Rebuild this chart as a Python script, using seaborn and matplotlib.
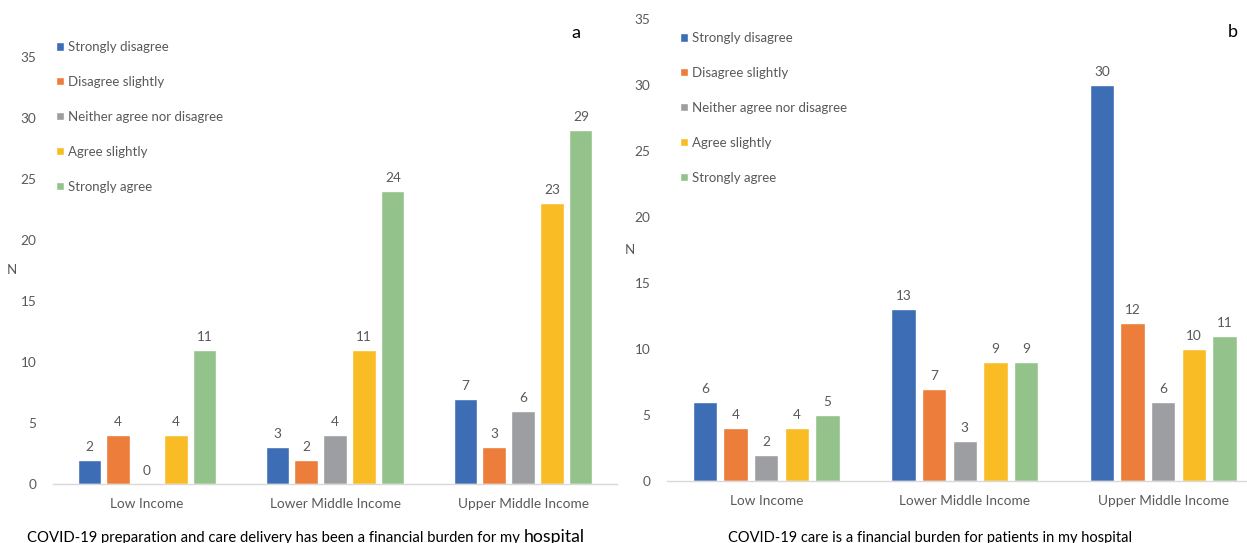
import numpy as np
import pandas as pd
import matplotlib
matplotlib.use("Agg")
import matplotlib.pyplot as plt
import seaborn as sns

categories = ["Low Income", "Lower Middle Income", "Upper Middle Income"]
responses = ["Strongly disagree", "Disagree slightly", "Neither agree nor disagree",
             "Agree slightly", "Strongly agree"]
# panel a: hospital burden
a_strongly_disagree = [2, 3, 7]
a_disagree_slightly = [4, 2, 3]
a_neither = [0, 4, 6]
a_agree_slightly = [4, 11, 23]
a_strongly_agree = [11, 24, 29]
# panel b: patient burden
b_strongly_disagree = [6, 13, 30]
b_disagree_slightly = [4, 7, 12]
b_neither = [2, 3, 6]
b_agree_slightly = [4, 9, 10]
b_strongly_agree = [5, 9, 11]

title_a = "COVID-19 preparation and care delivery has been a financial burden for my "
title_a_end = "hospital"
title_b = "COVID-19 care is a financial burden for patients in my hospital"
yticks = [0, 5, 10, 15, 20, 25, 30, 35]

colors = ["#3D6DB5", "#EC7D3A", "#9C9EA1", "#F9BC25", "#93C38B"]

def long_df(series):
    rows = []
    for resp, vals in zip(responses, series):
        for cat, v in zip(categories, vals):
            rows.append({"Income": cat, "Response": resp, "N": v})
    return pd.DataFrame(rows)

df_a = long_df([a_strongly_disagree, a_disagree_slightly, a_neither, a_agree_slightly, a_strongly_agree])
df_b = long_df([b_strongly_disagree, b_disagree_slightly, b_neither, b_agree_slightly, b_strongly_agree])

sns.set_style("white")
plt.rcParams["font.family"] = ["Lato", "DejaVu Sans"]
TXT = "#595959"

W, H = 1247, 543
fig = plt.figure(figsize=(W / 100, H / 100), dpi=100)

def px_axes(x0, x1, ybase, ytop):
    return fig.add_axes([x0 / W, (H - ybase) / H, (x1 - x0) / W, (ybase - ytop) / H])

ax_a = px_axes(53, 617, 484, 57)
ax_b = px_axes(667, 1247, 481, 19)

def draw(ax, df, xmax, leg_xy, letter_xy, letter, ylab_xy):
    sns.barplot(data=df, x="Income", y="N", hue="Response", order=categories,
                hue_order=responses, palette=colors, width=0.77, gap=0.2,
                ax=ax, errorbar=None, saturation=1)
    ax.set_ylim(0, 35)
    ax.set_xlim(-0.5, xmax)
    ax.set_yticks(yticks)
    ax.tick_params(axis="both", length=0, colors=TXT, labelsize=9.8)
    ax.tick_params(axis="x", pad=10)
    ax.tick_params(axis="y", pad=12)
    for s in ["top", "right", "left"]:
        ax.spines[s].set_visible(False)
    ax.spines["bottom"].set_color("#D9D9D9")
    ax.spines["bottom"].set_linewidth(1.0)
    ax.set_xlabel("")
    ax.set_ylabel("")
    for c in ax.containers:
        ax.bar_label(c, padding=5, color=TXT, fontsize=9.8)
    leg = ax.legend(loc="upper left", bbox_to_anchor=(leg_xy[0] / W, 1 - leg_xy[1] / H),
                    bbox_transform=fig.transFigure, frameon=False, fontsize=9.5,
                    handlelength=0.6, handleheight=0.6, handletextpad=0.3,
                    labelspacing=1.74, borderpad=0, borderaxespad=0)
    for t in leg.get_texts():
        t.set_color(TXT)
    fig.text(letter_xy[0] / W, 1 - letter_xy[1] / H, letter, fontsize=13,
             ha="center", va="center", color="black")
    fig.text(ylab_xy[0] / W, 1 - ylab_xy[1] / H, "N", fontsize=9.5,
             ha="center", va="center", color=TXT)

draw(ax_a, df_a, 2.5, (56, 41), (576, 33), "a", (12, 270))
draw(ax_b, df_b, -0.5 + 580 / 198.5, (680, 32), (1233, 32), "b", (630, 250))

# bottom titles
t1 = fig.text(27 / W, 1 - 538 / H, title_a, fontsize=10.7, ha="left", va="center", color="black")
fig.canvas.draw()
bb = t1.get_window_extent()
fig.text(bb.x1 / W, 1 - 537 / H, title_a_end, fontsize=12.7, ha="left", va="center", color="black")
fig.text(930 / W, 1 - 538 / H, title_b, fontsize=10.5, ha="center", va="center", color="black")

fig.savefig("out.png", dpi=100)
